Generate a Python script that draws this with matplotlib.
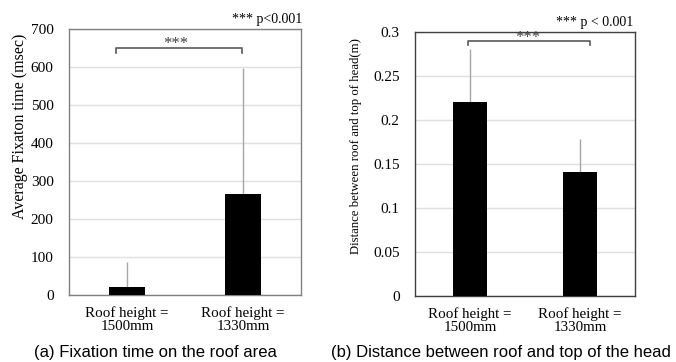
import matplotlib.pyplot as plt

groups = ["Roof height =\n1500mm", "Roof height =\n1330mm"]

fix_mean = [22, 266]
fix_sd = [66, 331]
fix_ticks = [0, 100, 200, 300, 400, 500, 600, 700]

dist_mean = [0.22, 0.141]
dist_sd = [0.06, 0.037]
dist_ticks = [0, 0.05, 0.1, 0.15, 0.2, 0.25, 0.3]
dist_ticklabels = ["0", "0.05", "0.1", "0.15", "0.2", "0.25", "0.3"]

serif = "Liberation Serif"
sans = "Liberation Sans"

fig = plt.figure(figsize=(6.76, 3.62), dpi=100)
ax1 = fig.add_axes([0.102, 0.185, 0.343, 0.735])
ax2 = fig.add_axes([0.614, 0.183, 0.325, 0.729])


def draw(ax, mean, sd, ticks, ticklabels, ymax, spine_col):
    x = list(range(len(mean)))
    ax.bar(x, mean, width=0.31, color="black", zorder=3)
    ax.errorbar(x, mean, yerr=[[0] * len(sd), sd], fmt="none",
                ecolor="#a6a6a6", elinewidth=1, capsize=0, zorder=2)
    ax.set_xlim(-0.5, 1.5)
    ax.set_ylim(0, ymax)
    ax.set_yticks(ticks)
    ax.set_yticklabels(ticklabels, fontfamily=serif, fontsize=11)
    ax.set_xticks(x)
    ax.set_xticklabels(groups, fontfamily=serif, fontsize=10.8, linespacing=1.05)
    ax.tick_params(length=0, pad=11)
    ax.tick_params(axis="x", pad=8)
    ax.yaxis.grid(True, color="#e0e0e0", lw=1, zorder=0)
    for s in ax.spines.values():
        s.set_color(spine_col)
        s.set_linewidth(1)


draw(ax1, fix_mean, fix_sd, fix_ticks, [str(t) for t in fix_ticks], 700, "#808080")
draw(ax2, dist_mean, dist_sd, dist_ticks, dist_ticklabels, 0.3, "#404040")

# significance brackets
ax1.plot([-0.095, -0.095, 0.99, 0.99], [636, 651, 651, 636], color="#595959", lw=1.2, zorder=4)
ax1.text(0.42, 660, "***", ha="center", va="center", fontfamily=serif, fontsize=12, color="#404040")
ax2.plot([-0.02, -0.02, 1.09, 1.09], [0.2845, 0.2898, 0.2898, 0.2845], color="#595959", lw=1.2, zorder=4)
ax2.text(0.53, 0.2935, "***", ha="center", va="center", fontfamily=serif, fontsize=12, color="#404040")

fig.text(302 / 676, 1 - 20 / 362, "*** p<0.001", ha="right", va="center",
         fontfamily=serif, fontsize=10)
fig.text(633 / 676, 1 - 22.5 / 362, "*** p < 0.001", ha="right", va="center",
         fontfamily=serif, fontsize=10)

fig.text(20 / 676, 1 - 126.5 / 362, "Average Fixaton time (msec)", rotation=90,
         ha="center", va="center", fontfamily=serif, fontsize=11.5)
fig.text(356 / 676, 1 - 146 / 362, "Distance between roof and top of head(m)", rotation=90,
         ha="center", va="center", fontfamily=serif, fontsize=9.2)

fig.text(155 / 676, 1 - 353 / 362, "(a) Fixation time on the roof area",
         ha="center", va="center", fontfamily=sans, fontsize=12)
fig.text(501 / 676, 1 - 353 / 362, "(b) Distance between roof and top of the head",
         ha="center", va="center", fontfamily=sans, fontsize=12)

fig.savefig("out.png", dpi=100)
